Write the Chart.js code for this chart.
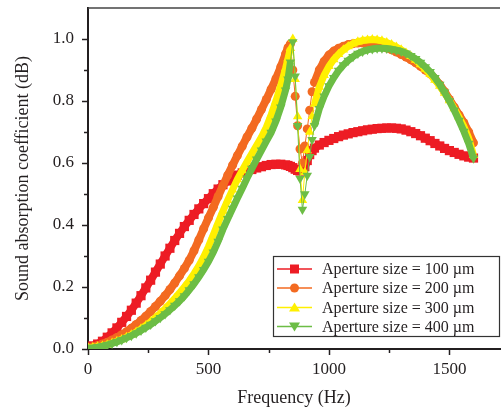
<!DOCTYPE html>
<html>
<head>
<meta charset="utf-8">
<script src="https://cdn.jsdelivr.net/npm/chart.js"></script>
<style>
  html, body { margin: 0; padding: 0; background: #fff; }
  #wrap { width: 501px; height: 411px; position: relative; }
</style>
</head>
<body>
<div id="wrap"><canvas id="absorptionChart"></canvas></div>
<script>
// Frequency samples (Hz), denser around the resonance dip
const freqs = [
    0, 20, 40, 60, 80, 100, 120, 140, 160, 180, 200, 220, 240, 260, 280, 300, 320, 340, 360, 380,
    400, 420, 440, 460, 480, 500, 520, 540, 560, 580, 600, 620, 640, 660, 680, 700, 720, 740, 760, 780,
    800, 820, 830, 840, 850, 860, 870, 880, 890, 900, 910, 920, 930, 940,
    960, 980, 1000, 1020, 1040, 1060, 1080, 1100, 1120, 1140, 1160, 1180, 1200, 1220, 1240, 1260, 1280,
    1300, 1320, 1340, 1360, 1380, 1400, 1420, 1440, 1460, 1480, 1500, 1520, 1540, 1560, 1580, 1600
];

const ap100 = [
    0.005, 0.010, 0.016, 0.025, 0.038, 0.052, 0.068, 0.086, 0.105, 0.125, 0.148, 0.172, 0.197, 0.222, 0.248, 0.274, 0.300, 0.325, 0.350, 0.373,
    0.395, 0.415, 0.434, 0.452, 0.469, 0.485, 0.501, 0.516, 0.530, 0.542, 0.552, 0.561, 0.568, 0.574, 0.579, 0.584, 0.588, 0.592, 0.595, 0.596,
    0.596, 0.594, 0.592, 0.589, 0.585, 0.580, 0.576, 0.574, 0.577, 0.588, 0.608, 0.627, 0.640, 0.648,
    0.658, 0.666, 0.673, 0.679, 0.685, 0.690, 0.694, 0.698, 0.701, 0.704, 0.707, 0.709, 0.711, 0.712, 0.713, 0.713, 0.712,
    0.710, 0.706, 0.701, 0.695, 0.688, 0.680, 0.672, 0.663, 0.655, 0.647, 0.640, 0.634, 0.628, 0.623, 0.619, 0.616
];

const ap200 = [
    0.004, 0.007, 0.011, 0.016, 0.022, 0.029, 0.037, 0.046, 0.056, 0.067, 0.079, 0.092, 0.106, 0.121, 0.137, 0.154, 0.172, 0.192, 0.213, 0.236,
    0.260, 0.286, 0.317, 0.352, 0.388, 0.423, 0.457, 0.492, 0.527, 0.561, 0.593, 0.624, 0.654, 0.684, 0.712, 0.742, 0.773, 0.805, 0.838, 0.872,
    0.910, 0.952, 0.972, 0.984, 0.900, 0.815, 0.720, 0.645, 0.600, 0.655, 0.710, 0.770, 0.830, 0.860,
    0.900, 0.928, 0.948, 0.961, 0.970, 0.977, 0.982, 0.985, 0.987, 0.987, 0.986, 0.983, 0.980, 0.976, 0.971, 0.965, 0.958,
    0.950, 0.942, 0.933, 0.923, 0.912, 0.900, 0.888, 0.872, 0.853, 0.830, 0.805, 0.780, 0.755, 0.730, 0.700, 0.665
];

const ap300 = [
    0.004, 0.005, 0.007, 0.010, 0.014, 0.019, 0.025, 0.031, 0.038, 0.046, 0.055, 0.065, 0.076, 0.088, 0.101, 0.115, 0.130, 0.146, 0.163, 0.181,
    0.200, 0.220, 0.243, 0.268, 0.297, 0.330, 0.368, 0.407, 0.445, 0.480, 0.514, 0.547, 0.576, 0.604, 0.631, 0.657, 0.684, 0.715, 0.755, 0.800,
    0.850, 0.905, 0.937, 0.970, 1.000, 0.870, 0.750, 0.580, 0.480, 0.570, 0.640, 0.700, 0.750, 0.790,
    0.845, 0.883, 0.912, 0.934, 0.951, 0.965, 0.976, 0.985, 0.991, 0.995, 0.997, 0.998, 0.997, 0.994, 0.989, 0.982, 0.974,
    0.965, 0.955, 0.944, 0.932, 0.918, 0.903, 0.886, 0.868, 0.848, 0.826, 0.802, 0.776, 0.748, 0.718, 0.680, 0.625
];

const ap400 = [
    0.003, 0.004, 0.006, 0.009, 0.013, 0.018, 0.023, 0.029, 0.036, 0.043, 0.051, 0.060, 0.069, 0.079, 0.090, 0.101, 0.113, 0.126, 0.140, 0.155,
    0.171, 0.190, 0.210, 0.232, 0.256, 0.282, 0.312, 0.347, 0.386, 0.420, 0.453, 0.486, 0.518, 0.551, 0.582, 0.612, 0.641, 0.670, 0.698, 0.735,
    0.780, 0.835, 0.870, 0.925, 0.990, 0.880, 0.720, 0.550, 0.450, 0.500, 0.560, 0.620, 0.675, 0.720,
    0.775, 0.815, 0.848, 0.875, 0.898, 0.916, 0.931, 0.943, 0.953, 0.960, 0.965, 0.968, 0.970, 0.970, 0.969, 0.967, 0.964,
    0.960, 0.954, 0.946, 0.936, 0.924, 0.910, 0.894, 0.875, 0.853, 0.828, 0.800, 0.770, 0.737, 0.702, 0.663, 0.615
];

const seriesLabels = [
    'Aperture size = 100 µm',
    'Aperture size = 200 µm',
    'Aperture size = 300 µm',
    'Aperture size = 400 µm'
];

const xTickValues = [0, 500, 1000, 1500];
const xMinorValues = [250, 750, 1250];
const yTickValues = [0, 0.2, 0.4, 0.6, 0.8, 1.0];
const yMinorValues = [0.1, 0.3, 0.5, 0.7, 0.9];

const serif = "'Liberation Serif', 'Times New Roman', 'DejaVu Serif', serif";
const inkColor = '#231f20';

function toPoints(values) {
    return freqs.map((f, i) => ({ x: f, y: values[i] }));
}

const styles = [
    { color: '#ed1c24', pointStyle: 'rect', radius: 6.5, rotation: 0, band: 8 },
    { color: '#f36a21', pointStyle: 'circle', radius: 4.5, rotation: 0, band: 8 },
    { color: '#fff000', pointStyle: 'triangle', radius: 5.5, rotation: 0, band: 7 },
    { color: '#6cbd45', pointStyle: 'triangle', radius: 5.5, rotation: 180, band: 7 }
];

const seriesValues = [ap100, ap200, ap300, ap400];

// markers are so dense in the original that they merge into a band;
// only the sparse samples across the dip show the thin connecting line
function segWidth(band, i) {
    return ctx => {
        if (i === 0) return band;
        const x0 = ctx.p0.parsed.x, x1 = ctx.p1.parsed.x;
        return (x0 >= 840 && x1 <= 940) ? 1 : band;
    };
}

const datasets = seriesValues.map((vals, i) => ({
    label: seriesLabels[i],
    data: toPoints(vals),
    showLine: true,
    borderColor: styles[i].color,
    backgroundColor: styles[i].color,
    borderWidth: styles[i].band,
    segment: { borderWidth: segWidth(styles[i].band, i) },
    pointStyle: styles[i].pointStyle,
    pointRadius: styles[i].radius,
    pointRotation: styles[i].rotation,
    pointBorderWidth: 0,
    order: 4 - i
}));

// axis ticks (major + minor), top frame line and the boxed legend
const framePlugin = {
    id: 'frame',
    afterDraw(chart) {
        const ctx = chart.ctx;
        const area = chart.chartArea;
        const xs = chart.scales.x;
        const ys = chart.scales.y;
        ctx.save();
        ctx.strokeStyle = inkColor;
        ctx.lineWidth = 1.5;
        xTickValues.forEach(v => {
            const px = Math.round(xs.getPixelForValue(v)) + 0.5;
            ctx.beginPath(); ctx.moveTo(px, area.bottom); ctx.lineTo(px, area.bottom + 6); ctx.stroke();
        });
        xMinorValues.forEach(v => {
            const px = Math.round(xs.getPixelForValue(v)) + 0.5;
            ctx.beginPath(); ctx.moveTo(px, area.bottom); ctx.lineTo(px, area.bottom + 4); ctx.stroke();
        });
        yTickValues.forEach(v => {
            const py = Math.round(ys.getPixelForValue(v)) + 0.5;
            ctx.beginPath(); ctx.moveTo(area.left, py); ctx.lineTo(area.left - 6, py); ctx.stroke();
        });
        yMinorValues.forEach(v => {
            const py = Math.round(ys.getPixelForValue(v)) + 0.5;
            ctx.beginPath(); ctx.moveTo(area.left, py); ctx.lineTo(area.left - 4, py); ctx.stroke();
        });

        // top frame
        ctx.strokeStyle = '#444';
        ctx.lineWidth = 1.5;
        ctx.beginPath(); ctx.moveTo(area.left, area.top); ctx.lineTo(area.right, area.top); ctx.stroke();

        // legend box
        const bx = 273.5, by = 256.5, bw = 226, bh = 80;
        ctx.fillStyle = '#fff';
        ctx.fillRect(bx, by, bw, bh);
        ctx.strokeStyle = '#333';
        ctx.lineWidth = 1.2;
        ctx.strokeRect(bx, by, bw, bh);
        ctx.font = '16px ' + serif;
        ctx.textBaseline = 'middle';
        ctx.textAlign = 'left';
        const rowY = [269, 288, 307.5, 326.5];
        chart.data.datasets.forEach((ds, i) => {
            const st = styles[i];
            const y = rowY[i];
            ctx.strokeStyle = st.color;
            ctx.fillStyle = st.color;
            ctx.lineWidth = 1.5;
            ctx.beginPath(); ctx.moveTo(277, y); ctx.lineTo(312, y); ctx.stroke();
            const cx = 294.5;
            ctx.beginPath();
            if (st.pointStyle === 'rect') {
                ctx.rect(cx - 4.5, y - 4.5, 9, 9);
            } else if (st.pointStyle === 'circle') {
                ctx.arc(cx, y, 4.5, 0, Math.PI * 2);
            } else if (st.rotation === 180) {
                ctx.moveTo(cx - 5.5, y - 4); ctx.lineTo(cx + 5.5, y - 4); ctx.lineTo(cx, y + 5); ctx.closePath();
            } else {
                ctx.moveTo(cx - 5.5, y + 4); ctx.lineTo(cx + 5.5, y + 4); ctx.lineTo(cx, y - 5); ctx.closePath();
            }
            ctx.fill();
            ctx.fillStyle = inkColor;
            ctx.fillText(ds.label, 322, y + 1);
        });
        ctx.restore();
    }
};

function dropPadding(s) {
    s.paddingTop = 0; s.paddingBottom = 0; s.paddingLeft = 0; s.paddingRight = 0;
}

const config = {
    type: 'scatter',
    data: { datasets: datasets },
    options: {
        responsive: true,
        maintainAspectRatio: false,
        animation: false,
        events: [],
        layout: {
            autoPadding: false,
            padding: { top: 8, right: 1, left: 0, bottom: 0 }
        },
        plugins: {
            legend: { display: false },
            tooltip: { enabled: false }
        },
        scales: {
            x: {
                type: 'linear',
                min: 0,
                max: 1710,
                afterFit: s => { s.height = 62; dropPadding(s); },
                afterBuildTicks: s => { s.ticks = xTickValues.map(v => ({ value: v })); },
                grid: { display: false, drawTicks: false },
                border: { display: true, color: inkColor, width: 2 },
                ticks: {
                    padding: 10,
                    color: inkColor,
                    font: { family: serif, size: 17 },
                    maxRotation: 0,
                    callback: v => String(v)
                },
                title: {
                    display: true,
                    text: 'Frequency (Hz)',
                    color: inkColor,
                    font: { family: serif, size: 18 },
                    padding: { top: 0, bottom: 2 }
                }
            },
            y: {
                type: 'linear',
                min: 0,
                max: 1.1,
                afterFit: s => { s.width = 88; dropPadding(s); },
                afterBuildTicks: s => { s.ticks = yTickValues.map(v => ({ value: v })); },
                grid: { display: false, drawTicks: false },
                border: { display: true, color: inkColor, width: 2 },
                ticks: {
                    padding: 14,
                    color: inkColor,
                    font: { family: serif, size: 17 },
                    callback: v => Number(v).toFixed(1)
                },
                title: {
                    display: true,
                    text: 'Sound absorption coefficient (dB)',
                    color: inkColor,
                    font: { family: serif, size: 18 },
                    padding: { top: 12, bottom: 0 }
                }
            }
        }
    },
    plugins: [framePlugin]
};

const ctx = document.getElementById('absorptionChart').getContext('2d');
const absorptionChart = new Chart(ctx, config);
</script>
</body>
</html>
